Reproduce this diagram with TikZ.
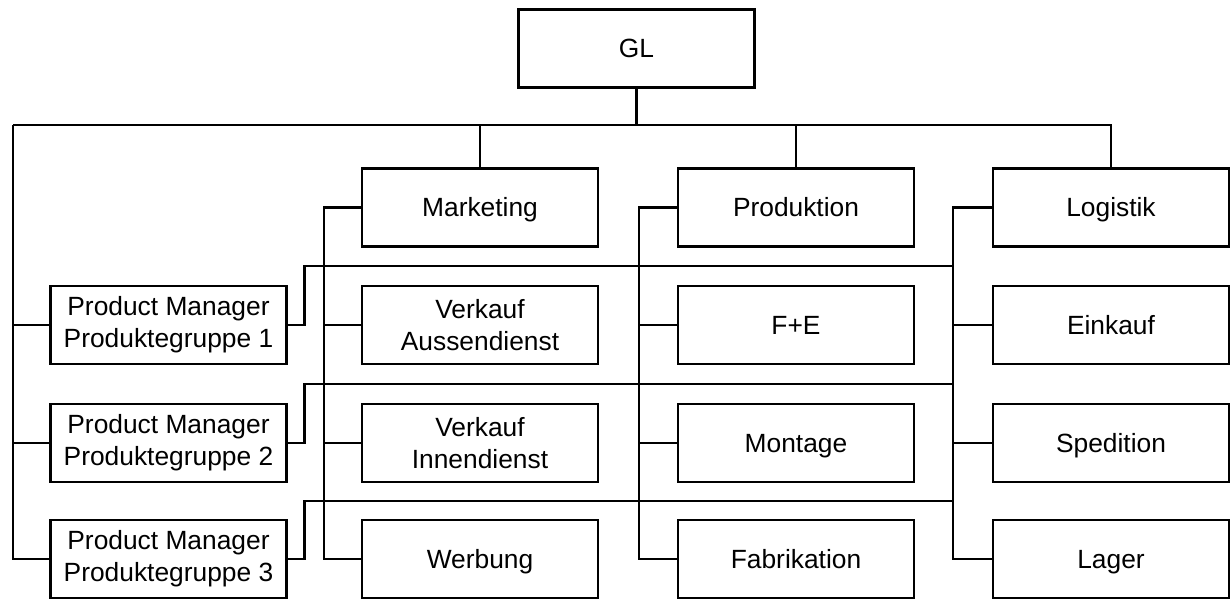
\documentclass[tikz,border=0pt]{standalone}
\usepackage{fontspec}
\setmainfont{Liberation Sans}
\begin{document}
\begin{tikzpicture}[x=0.02cm, y=-0.02cm,
  unit/.style={draw, line width=1.3pt, minimum width=4.72cm, minimum height=1.56cm,
    inner sep=0pt, align=center, font=\fontsize{15}{18.4}\selectfont},
  single/.style={unit, text height=10.8pt, text depth=0pt},
  link/.style={line width=1.3pt, line join=miter}]
\useasboundingbox (0,0) rectangle (1232,600);

% top management
\node[single] (gl) at (636.5,48.5) {GL};

% product managers
\node[unit] (pm1) at (168.5,325) {Product Manager\\Produktegruppe 1};
\node[unit] (pm2) at (168.5,443) {Product Manager\\Produktegruppe 2};
\node[unit] (pm3) at (168.5,559) {Product Manager\\Produktegruppe 3};

% marketing column
\node[single] (mkt) at (480,207.5) {Marketing};
\node[unit]   (va)  at (480,325) {Verkauf\\Aussendienst};
\node[unit]   (vi)  at (480,443) {Verkauf\\Innendienst};
\node[single] (wer) at (480,559) {Werbung};

% production column
\node[single] (prod) at (796,207.5) {Produktion};
\node[single] (fe)   at (796,325) {F+E};
\node[single] (mon)  at (796,443) {Montage};
\node[single] (fab)  at (796,559) {Fabrikation};

% logistics column
\node[single] (log) at (1111,207.5) {Logistik};
\node[single] (ein) at (1111,325) {Einkauf};
\node[single] (spe) at (1111,443) {Spedition};
\node[single] (lag) at (1111,559) {Lager};

% main bus
\coordinate (busL) at (13,125);
\coordinate (busR) at (1111,125);
\draw[link] (gl.south) -- (gl.south |- busL);
\draw[link] (busL) -- (busR) -- (log.north);
\draw[link] (mkt.north) -- (mkt.north |- busL);
\draw[link] (prod.north) -- (prod.north |- busL);

% left spine to the product managers
\draw[link] (busL) |- (pm3.west);
\draw[link] (busL |- pm1.west) -- (pm1.west);
\draw[link] (busL |- pm2.west) -- (pm2.west);

% column spines
\coordinate (ms) at (324,207.5);
\coordinate (ps) at (639,207.5);
\coordinate (ls) at (953,207.5);
\draw[link] (mkt.west) -- (ms) |- (wer.west);
\draw[link] (ms |- va.west) -- (va.west);
\draw[link] (ms |- vi.west) -- (vi.west);
\draw[link] (prod.west) -- (ps) |- (fab.west);
\draw[link] (ps |- fe.west) -- (fe.west);
\draw[link] (ps |- mon.west) -- (mon.west);
\draw[link] (log.west) -- (ls) |- (lag.west);
\draw[link] (ls |- ein.west) -- (ein.west);
\draw[link] (ls |- spe.west) -- (spe.west);

% product manager cross lines
\coordinate (h1) at (953,266);
\coordinate (h2) at (953,384);
\coordinate (h3) at (953,501);
\draw[link] (pm1.east) -- ++(17,0) |- (h1);
\draw[link] (pm2.east) -- ++(17,0) |- (h2);
\draw[link] (pm3.east) -- ++(17,0) |- (h3);
\end{tikzpicture}
\end{document}
